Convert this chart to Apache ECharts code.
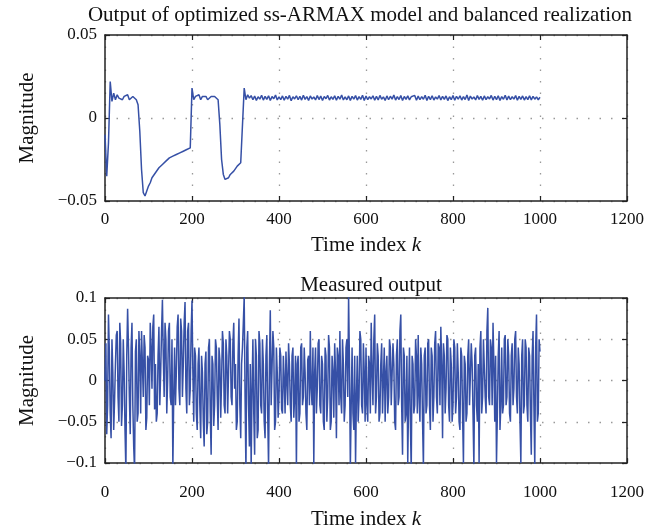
<!DOCTYPE html>
<html>
<head>
<meta charset="utf-8">
<script src="https://cdn.jsdelivr.net/npm/echarts@6/dist/echarts.min.js"></script>
<style>html,body{margin:0;padding:0;background:#fff}#c{width:670px;height:531px}</style>
</head>
<body>
<div id="c"></div>
<script>
// sampling steps of the time index k
const topStep = 4;
const bottomStep = 2;
const xTicks = [0, 200, 400, 600, 800, 1000, 1200];
const topYTicks = [-0.05, 0, 0.05];
const bottomYTicks = [-0.1, -0.05, 0, 0.05, 0.1];

// Output of optimized ss-ARMAX model (k = 0,4,8,...,1000)
const modelOutput = [
-0.010,-0.035,-0.015,0.022,0.010,0.015,0.011,0.014,0.012,0.013,
0.011,0.013,0.012,0.014,0.011,0.012,0.013,0.012,0.011,0.008,
-0.008,-0.031,-0.045,-0.047,-0.044,-0.041,-0.039,-0.036,-0.035,-0.033,
-0.032,-0.030,-0.031,-0.028,-0.027,-0.026,-0.025,-0.024,-0.024,-0.023,
-0.023,-0.022,-0.021,-0.021,-0.020,-0.020,-0.019,-0.019,-0.019,-0.018,
0.018,0.011,0.013,0.012,0.014,0.011,0.013,0.012,0.013,0.011,
0.012,0.013,0.012,0.013,0.012,0.011,-0.004,-0.025,-0.034,-0.037,
-0.038,-0.036,-0.034,-0.033,-0.032,-0.031,-0.029,-0.028,-0.027,-0.026,
0.018,0.011,0.014,0.012,
0.0135,0.0110,0.0132,0.0106,0.0128,0.0114,0.0137,0.0108,0.0130,0.0112,
0.0134,0.0105,0.0129,0.0116,0.0138,0.0109,0.0127,0.0111,0.0133,0.0107,
0.0131,0.0113,0.0136,0.0104,0.0128,0.0115,0.0134,0.0110,0.0130,0.0108,
0.0137,0.0112,0.0129,0.0106,0.0133,0.0114,0.0127,0.0109,0.0135,0.0111,
0.0132,0.0105,0.0130,0.0116,0.0136,0.0108,0.0128,0.0112,0.0134,0.0107,
0.0131,0.0113,0.0139,0.0109,0.0127,0.0110,0.0133,0.0106,0.0130,0.0114,
0.0135,0.0108,0.0129,0.0112,0.0137,0.0105,0.0132,0.0111,0.0128,0.0115,
0.0134,0.0107,0.0130,0.0109,0.0136,0.0113,0.0127,0.0106,0.0133,0.0110,
0.0131,0.0114,0.0138,0.0108,0.0129,0.0111,0.0135,0.0105,0.0130,0.0112,
0.0133,0.0109,0.0128,0.0116,0.0136,0.0107,0.0132,0.0110,0.0129,0.0113,
0.0137,0.0106,0.0131,0.0111,0.0134,0.0108,0.0127,0.0114,0.0135,0.0109,
0.0130,0.0112,0.0133,0.0105,0.0128,0.0110,0.0136,0.0107,0.0131,0.0113,
0.0134,0.0108,0.0129,0.0111,0.0138,0.0106,0.0132,0.0114,0.0127,0.0109,
0.0135,0.0112,0.0130,0.0107,0.0133,0.0110,0.0128,0.0115,0.0136,0.0108,
0.0131,0.0111,0.0134,0.0106,0.0129,0.0113,0.0137,0.0109,0.0132,0.0110,
0.0128,0.0114,0.0135,0.0107,0.0130,0.0112,0.0133,0.0108,0.0129,0.0111,
0.0134,0.0109,0.0131,0.0113,0.0127,0.0110,0.0125
];

// Measured output (k = 0,2,4,...,1000)
const measuredOutput = [
0.000,0.045,-0.065,-0.030,0.080,0.035,-0.040,-0.070,0.050,0.010,-0.060,-0.025,0.020,0.055,0.060,-0.020,-0.050,0.070,0.045,-0.055,
-0.030,0.050,0.010,-0.060,-0.110,0.030,0.087,0.040,-0.020,-0.065,0.040,0.070,-0.030,-0.080,-0.110,0.035,0.050,-0.050,-0.040,0.060,
0.030,-0.040,0.060,0.020,-0.020,0.055,0.040,-0.060,-0.045,0.030,0.025,-0.030,0.070,0.040,-0.010,0.065,0.080,-0.035,0.020,-0.050,
-0.040,0.030,0.065,-0.030,0.010,0.060,0.098,0.030,-0.020,0.070,0.050,-0.040,0.000,0.060,0.070,-0.020,-0.030,0.050,-0.105,-0.020,
0.040,-0.030,0.010,0.065,0.080,-0.010,-0.030,0.075,0.060,-0.020,0.020,0.070,0.095,-0.010,-0.040,0.060,0.070,-0.030,-0.010,0.060,
0.097,0.010,-0.050,0.040,0.030,-0.040,-0.060,0.020,0.040,-0.030,-0.070,0.030,0.010,-0.050,-0.080,0.020,0.035,-0.065,-0.050,0.040,
0.050,-0.040,-0.090,0.030,0.020,-0.055,-0.030,0.050,0.040,-0.020,-0.060,0.040,0.025,-0.045,0.000,0.060,0.045,-0.030,-0.040,0.050,
0.030,-0.040,0.010,0.060,0.050,-0.020,-0.030,0.045,0.070,-0.010,0.020,-0.060,-0.050,0.030,0.075,-0.030,-0.070,0.020,0.040,0.070,
0.102,-0.020,-0.110,0.040,0.060,-0.030,-0.080,0.020,-0.105,-0.010,0.050,-0.040,-0.090,0.050,0.030,-0.070,-0.060,0.060,0.045,-0.030,
-0.040,0.050,0.020,-0.050,-0.070,0.030,0.055,-0.040,-0.105,0.020,0.085,-0.030,-0.030,0.060,0.040,-0.060,-0.050,0.040,0.010,-0.045,
-0.020,0.040,0.030,-0.035,-0.040,0.030,0.000,-0.040,0.035,0.000,-0.030,0.045,0.020,-0.030,-0.050,0.030,0.040,-0.045,-0.020,0.030,
-0.105,0.020,0.030,-0.050,-0.040,0.040,0.045,-0.030,-0.020,0.040,0.010,-0.040,-0.060,0.025,0.030,-0.030,0.060,-0.010,-0.030,0.040,
-0.102,0.010,0.040,-0.040,-0.010,0.045,0.050,-0.030,-0.040,0.030,0.020,-0.050,-0.060,0.040,0.030,-0.050,-0.020,0.055,0.040,-0.060,
-0.050,0.030,0.010,-0.045,0.045,0.010,-0.070,0.040,0.030,-0.030,0.060,-0.020,-0.040,0.050,0.020,-0.050,-0.030,0.040,0.050,-0.020,
0.102,0.020,-0.105,-0.030,0.040,-0.040,-0.060,0.030,-0.100,-0.020,0.030,-0.050,-0.020,0.060,0.050,-0.030,-0.040,0.045,0.010,-0.050,
0.040,-0.030,-0.050,0.030,0.020,-0.040,0.070,0.010,-0.030,0.050,0.080,-0.040,-0.020,0.045,0.030,-0.050,-0.040,0.020,0.045,-0.040,
0.000,0.040,-0.050,0.010,0.030,-0.040,-0.020,0.050,0.040,-0.030,-0.030,0.045,0.020,-0.050,-0.060,0.030,0.050,-0.030,-0.020,0.060,
0.080,-0.030,-0.090,0.040,0.030,-0.050,-0.040,0.030,-0.100,-0.020,0.040,-0.050,-0.110,0.030,0.020,-0.040,-0.030,0.050,0.030,-0.040,
0.055,-0.020,-0.050,0.040,0.020,-0.050,-0.105,0.030,0.040,-0.040,-0.030,0.045,0.050,-0.030,-0.060,0.040,0.030,-0.050,-0.020,0.045,
0.060,-0.020,-0.040,0.045,0.040,-0.030,0.065,0.020,-0.070,0.045,0.030,-0.040,-0.010,0.055,0.050,-0.030,-0.050,0.040,0.020,-0.050,
-0.030,0.050,0.040,-0.040,-0.020,0.045,0.010,-0.050,-0.060,0.040,0.030,-0.040,-0.100,0.030,0.020,-0.050,-0.040,0.030,0.050,-0.030,
-0.030,0.045,0.020,-0.040,-0.105,0.030,0.040,-0.030,-0.050,0.020,-0.100,0.040,0.060,-0.040,-0.020,0.050,0.050,-0.020,-0.040,0.060,
0.088,-0.020,-0.030,0.050,0.040,-0.030,0.070,0.020,-0.050,0.030,-0.100,-0.040,0.030,0.060,-0.060,-0.030,0.040,-0.040,-0.030,0.050,
0.055,-0.030,-0.020,0.050,0.030,-0.040,-0.050,0.030,0.045,-0.030,-0.010,0.050,0.060,-0.020,-0.040,0.040,0.020,-0.050,-0.100,0.030,
0.050,-0.040,-0.030,0.050,0.040,-0.030,-0.050,0.040,0.030,-0.040,-0.090,0.030,0.060,-0.030,-0.105,0.040,0.080,-0.050,-0.040,0.050,
0.035
];

const FONT = 'Liberation Serif';
const LINE_COLOR = '#3650a6';
const toPairs = (arr, step) => arr.map((v, i) => [i * step, v]);
const fmtY = v => String(parseFloat(Number(v).toFixed(3))).replace('-', '\u2212');
const fmtX = v => String(v);

const chart = echarts.init(document.getElementById('c'), null, {renderer: 'canvas'});

const grids = [
  {left: 105, top: 35, width: 522, height: 166},
  {left: 105, top: 298, width: 522, height: 165}
];

const tickStyle = {show: true, inside: true, length: 5, lineStyle: {color: '#222', width: 1.2}};
const boxLine = {show: true, onZero: false, lineStyle: {color: '#222', width: 1.5}};
const gridLine = {show: true, lineStyle: {color: '#999', type: [1.5, 10], width: 1.3}};

function mainX(gi) {
  return {
    gridIndex: gi, type: 'value', position: 'bottom',
    min: xTicks[0], max: xTicks[xTicks.length - 1], interval: xTicks[1] - xTicks[0],
    name: '{n|Time index }{i|k}', nameLocation: 'middle', nameGap: gi === 0 ? 34 : 46,
    nameTextStyle: {rich: {
      n: {fontFamily: FONT, fontSize: 21, color: '#111'},
      i: {fontFamily: FONT, fontSize: 21, fontStyle: 'italic', color: '#111'}
    }},
    axisLine: boxLine, axisTick: tickStyle,
    axisLabel: {fontFamily: FONT, fontSize: 17, color: '#111', margin: gi === 0 ? 10 : 21, formatter: fmtX},
    splitLine: gridLine
  };
}
function mirrorX(gi) {
  return {
    gridIndex: gi, type: 'value', position: 'top',
    min: xTicks[0], max: xTicks[xTicks.length - 1], interval: xTicks[1] - xTicks[0],
    axisLine: boxLine, axisTick: tickStyle, axisLabel: {show: false}, splitLine: {show: false}
  };
}
function mainY(gi, ticks) {
  return {
    gridIndex: gi, type: 'value', position: 'left',
    min: ticks[0], max: ticks[ticks.length - 1], interval: 0.05,
    name: 'Magnitude', nameLocation: 'middle', nameRotate: 90, nameGap: 67,
    nameTextStyle: {fontFamily: FONT, fontSize: 21, color: '#111'},
    axisLine: boxLine, axisTick: tickStyle,
    axisLabel: {fontFamily: FONT, fontSize: 17, color: '#111', margin: 8, formatter: fmtY},
    splitLine: gridLine
  };
}
function mirrorY(gi, ticks) {
  return {
    gridIndex: gi, type: 'value', position: 'right',
    min: ticks[0], max: ticks[ticks.length - 1], interval: 0.05,
    axisLine: boxLine, axisTick: tickStyle, axisLabel: {show: false}, splitLine: {show: false}
  };
}

chart.setOption({
  animation: false,
  backgroundColor: '#fff',
  title: [
    {text: 'Output of optimized ss-ARMAX model and balanced realization', left: 355, top: 0, textAlign: 'center',
     textStyle: {fontFamily: FONT, fontSize: 21, fontWeight: 'normal', color: '#111'}},
    {text: 'Measured output', left: 366, top: 270, textAlign: 'center',
     textStyle: {fontFamily: FONT, fontSize: 21, fontWeight: 'normal', color: '#111'}}
  ],
  grid: grids,
  xAxis: [mainX(0), mirrorX(0), mainX(1), mirrorX(1)],
  yAxis: [mainY(0, topYTicks), mirrorY(0, topYTicks), mainY(1, bottomYTicks), mirrorY(1, bottomYTicks)],
  series: [
    {type: 'line', xAxisIndex: 0, yAxisIndex: 0, data: toPairs(modelOutput, topStep), showSymbol: false, clip: true,
     lineStyle: {color: LINE_COLOR, width: 1.5}},
    {type: 'line', xAxisIndex: 2, yAxisIndex: 2, data: toPairs(measuredOutput, bottomStep), showSymbol: false, clip: true,
     lineStyle: {color: LINE_COLOR, width: 1.5}}
  ]
});
</script>
</body>
</html>
